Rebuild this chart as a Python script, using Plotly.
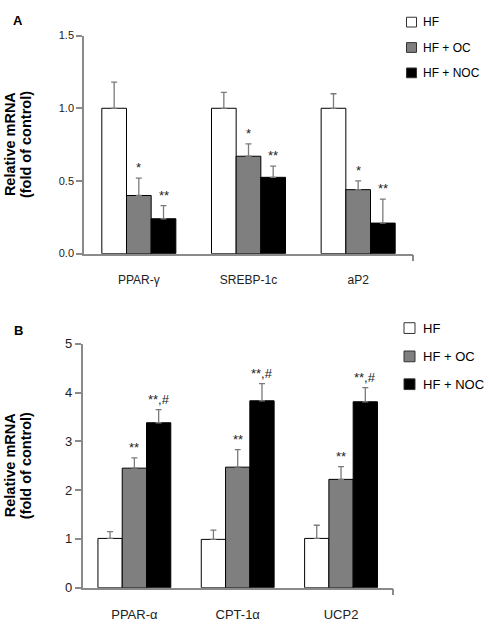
import numpy as np
import plotly.graph_objects as go

# ---------------- data ----------------
series = ["HF", "HF + OC", "HF + NOC"]

genes_a = ["PPAR-γ", "SREBP-1c", "aP2"]
hf_a = [1.00, 1.00, 1.00]
hf_a_err = [0.18, 0.11, 0.10]
oc_a = [0.40, 0.67, 0.44]
oc_a_err = [0.12, 0.085, 0.06]
noc_a = [0.24, 0.525, 0.21]
noc_a_err = [0.09, 0.077, 0.165]
sig_a_oc = ["*", "*", "*"]
sig_a_noc = ["**", "**", "**"]
ticks_a = [0.0, 0.5, 1.0, 1.5]

genes_b = ["PPAR-α", "CPT-1α", "UCP2"]
hf_b = [1.01, 0.99, 1.01]
hf_b_err = [0.14, 0.19, 0.27]
oc_b = [2.45, 2.47, 2.22]
oc_b_err = [0.21, 0.36, 0.26]
noc_b = [3.38, 3.83, 3.81]
noc_b_err = [0.27, 0.35, 0.29]
sig_b_oc = ["**", "**", "**"]
sig_b_noc = ["**,#", "**,#", "**,#"]
ticks_b = [0, 1, 2, 3, 4, 5]

ytitle_lines = ["Relative mRNA", "(fold of control)"]

# ---------------- style ----------------
W, H = 489, 624
FONT = "Liberation Sans, Arial, sans-serif"
fills = ["#ffffff", "#7f7f7f", "#000000"]
AXC = "#8a8a8a"
ERRC = "#7a7a7a"

def px_x(p):
    return p / W

def px_y(p):
    return 1 - p / H

fig = go.Figure()

panels = [
    dict(genes=genes_a, vals=[hf_a, oc_a, noc_a], errs=[hf_a_err, oc_a_err, noc_a_err],
         sig=[None, sig_a_oc, sig_a_noc], xa="x", ya="y", w=0.225, starfont=13),
    dict(genes=genes_b, vals=[hf_b, oc_b, noc_b], errs=[hf_b_err, oc_b_err, noc_b_err],
         sig=[None, sig_b_oc, sig_b_noc], xa="x2", ya="y2", w=0.235, starfont=13),
]

annotations = []
for p in panels:
    pos = np.arange(len(p["genes"]))
    for k in range(3):
        xk = pos + (k - 1) * p["w"]
        fig.add_trace(go.Bar(
            x=xk, y=p["vals"][k], width=p["w"], name=series[k],
            marker=dict(color=fills[k], line=dict(color="#000000", width=1)),
            error_y=dict(type="data", array=p["errs"][k], arrayminus=[0] * len(pos),
                         symmetric=False, color=ERRC, thickness=1.3, width=3),
            xaxis=p["xa"], yaxis=p["ya"], showlegend=False,
        ))
        if p["sig"][k] is not None:
            for i in range(len(pos)):
                annotations.append(dict(
                    x=xk[i], y=p["vals"][k][i] + p["errs"][k][i], xref=p["xa"], yref=p["ya"],
                    text=p["sig"][k][i], showarrow=False, xanchor="center", yanchor="bottom",
                    yshift=1, font=dict(family=FONT, size=p["starfont"], color="#222222")))

# y-axis titles (two lines each) and panel letters
for yc in [(px_y(252.7) + px_y(29.3)) / 2, (px_y(595) + px_y(345)) / 2]:
    for xc, line in zip([9.5, 25.5], ytitle_lines):
        annotations.append(dict(x=px_x(xc), y=yc, xref="paper", yref="paper",
                                text="<b>" + line + "</b>", textangle=-90, showarrow=False,
                                xanchor="center", yanchor="middle",
                                font=dict(family=FONT, size=14.5, color="#000000")))
annotations.append(dict(x=px_x(18), y=px_y(14), xref="paper", yref="paper", text="<b>A</b>",
                        showarrow=False, xanchor="center", yanchor="middle",
                        font=dict(family=FONT, size=13, color="#000000")))
annotations.append(dict(x=px_x(18), y=px_y(331), xref="paper", yref="paper", text="<b>B</b>",
                        showarrow=False, xanchor="center", yanchor="middle",
                        font=dict(family=FONT, size=13, color="#000000")))

# legends (keys + labels)
shapes = []
legends = [
    dict(x0=406.5, size=10, centers=[15.5, 41.5, 67.5], tx=421, fs=12),
    dict(x0=404, size=11, centers=[329, 358, 386.5], tx=420.5, fs=13),
]
for lg in legends:
    for k, c in enumerate(lg["centers"]):
        shapes.append(dict(type="rect", xref="paper", yref="paper",
                           x0=px_x(lg["x0"]), x1=px_x(lg["x0"] + lg["size"]),
                           y0=px_y(c + lg["size"] / 2), y1=px_y(c - lg["size"] / 2),
                           fillcolor=fills[k], line=dict(color="#333333", width=1)))
        annotations.append(dict(x=px_x(lg["tx"]), y=px_y(c), xref="paper", yref="paper",
                                text=series[k], showarrow=False, xanchor="left", yanchor="middle",
                                font=dict(family=FONT, size=lg["fs"], color="#000000")))

def xaxis(domain, genes, fs, anchor, standoff):
    return dict(domain=domain, anchor=anchor, range=[-0.5, 2.5],
                tickmode="array", tickvals=list(range(len(genes))), ticktext=genes,
                ticks="", showline=True, linecolor=AXC, linewidth=1.5,
                showgrid=False, zeroline=False, fixedrange=True,
                tickfont=dict(family=FONT, size=fs, color="#222222"),
                ticklabelstandoff=standoff,
                minor=dict(tickmode="array", tickvals=[2.5], ticks="outside",
                           ticklen=6, tickwidth=1.5, tickcolor=AXC))

def yaxis(domain, rng, tv, fmt, fs, anchor):
    return dict(domain=domain, anchor=anchor, range=rng, tickmode="array", tickvals=tv,
                tickformat=fmt, ticks="outside", ticklen=6, tickwidth=1.5, tickcolor=AXC,
                showline=True, linecolor=AXC, linewidth=1.5, showgrid=False, zeroline=False,
                tickfont=dict(family=FONT, size=fs, color="#222222"), fixedrange=True)

fig.update_layout(
    width=W, height=H, margin=dict(l=0, r=0, t=0, b=0),
    paper_bgcolor="white", plot_bgcolor="white",
    barmode="overlay", showlegend=False,
    xaxis=xaxis([px_x(84), px_x(413)], genes_a, 12, "y", 14),
    yaxis=yaxis([px_y(252.7), px_y(29.3)], [0, 1.5], ticks_a, ".1f", 11, "x"),
    xaxis2=xaxis([px_x(82.7), px_x(392.7)], genes_b, 13, "y2", 14),
    yaxis2=yaxis([px_y(595), px_y(345)], [0, 5], ticks_b, "d", 13, "x2"),
    annotations=annotations, shapes=shapes,
)

fig.write_html("out.html")
